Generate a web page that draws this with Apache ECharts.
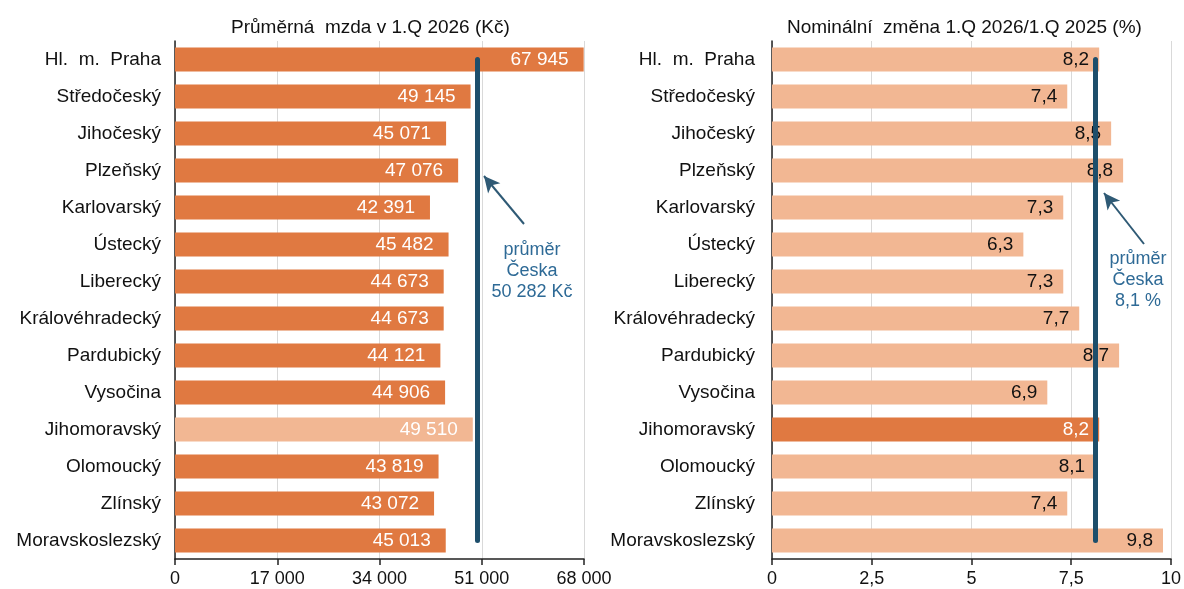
<!DOCTYPE html>
<html>
<head>
<meta charset="utf-8">
<title>Průměrná mzda 1.Q 2026</title>
<script src="https://cdn.jsdelivr.net/npm/echarts@6/dist/echarts.min.js"></script>
<style>
    html, body { margin: 0; padding: 0; background: #fff; }
    #container { width: 1184px; height: 589px; }
</style>
</head>
<body>
<div id="container"></div>
<script>
// kraje
var kraje = ['Hl.  m.  Praha', 'Středočeský', 'Jihočeský', 'Plzeňský', 'Karlovarský', 'Ústecký', 'Liberecký',
    'Královéhradecký', 'Pardubický', 'Vysočina', 'Jihomoravský', 'Olomoucký', 'Zlínský', 'Moravskoslezský'];
// průměrná mzda v Kč
var mzda = [67945, 49145, 45071, 47076, 42391, 45482, 44673, 44673, 44121, 44906, 49510, 43819, 43072, 45013];
// nominální změna v %
var zmena = [8.2, 7.4, 8.5, 8.8, 7.3, 6.3, 7.3, 7.7, 8.7, 6.9, 8.2, 8.1, 7.4, 9.8];
var prumerMzda = 50282;
var prumerZmena = 8.1;
var zvyraznit = 'Jihomoravský';
// osy
var mzdaTicks = [0, 17000, 34000, 51000, 68000];
var zmenaTicks = [0, 2.5, 5, 7.5, 10];

var tmava = '#e07941';
var svetla = '#f2b793';
var modra = '#1d4e6b';
var font = "'Liberation Sans', Arial, sans-serif";

function tisice(v) {
    return String(v).replace(/\B(?=(\d{3})+(?!\d))/g, ' ');
}
function carka(v) {
    return String(v).replace('.', ',');
}

var dom = document.getElementById("container");
var myChart = echarts.init(dom);

function osaX(idx, ticks, fmt) {
    return {
        type: 'value',
        gridIndex: idx,
        min: ticks[0],
        max: ticks[ticks.length - 1],
        interval: ticks[1] - ticks[0],
        axisLine: { show: true, lineStyle: { color: '#222', width: 1.5 } },
        axisTick: { show: true, length: 6, lineStyle: { color: '#222', width: 1.5 } },
        axisLabel: { color: '#111', fontSize: 18, fontFamily: font, margin: 11, formatter: fmt },
        splitLine: { show: true, lineStyle: { color: '#d9d9d9', width: 1 } }
    };
}
function osaY(idx, margin) {
    return {
        type: 'category',
        gridIndex: idx,
        inverse: true,
        data: kraje,
        axisLine: { show: true, lineStyle: { color: '#222', width: 1.5 } },
        axisTick: { show: false },
        axisLabel: { color: '#111', fontSize: 19, fontFamily: font, margin: margin }
    };
}

var option = {
    animation: false,
    textStyle: { fontFamily: font },
    title: [
        { text: 'Průměrná  mzda v 1.Q 2026 (Kč)', left: 226, top: 13,
            textStyle: { fontSize: 19, fontWeight: 'normal', color: '#111', fontFamily: font } },
        { text: 'Nominální  změna 1.Q 2026/1.Q 2025 (%)', left: 782, top: 13,
            textStyle: { fontSize: 19, fontWeight: 'normal', color: '#111', fontFamily: font } }
    ],
    grid: [
        { left: 175, width: 409, top: 41, height: 518 },
        { left: 772, width: 402, top: 41, height: 518 }
    ],
    xAxis: [
        osaX(0, mzdaTicks, function (v) { return tisice(v); }),
        osaX(1, zmenaTicks, function (v) { return carka(v); })
    ],
    yAxis: [osaY(0, 14), osaY(1, 17)],
    series: [
        {
            type: 'bar',
            xAxisIndex: 0,
            yAxisIndex: 0,
            barCategoryGap: '35%',
            data: mzda.map(function (v, i) {
                return { value: v, itemStyle: { color: kraje[i] === zvyraznit ? svetla : tmava } };
            }),
            label: {
                show: true,
                position: 'insideRight',
                distance: 15,
                color: '#fff',
                fontSize: 19,
                fontFamily: font,
                formatter: function (p) { return tisice(p.value); }
            },
            markLine: {
                silent: true,
                symbol: 'none',
                label: { show: false },
                data: [
                    [
                        { coord: [prumerMzda, 0], lineStyle: { color: modra, width: 5, cap: 'round', type: 'solid' } },
                        { coord: [prumerMzda, kraje.length - 1] }
                    ],
                    [
                        { x: 524, y: 224, symbol: 'none', lineStyle: { color: '#2f5a75', width: 2, type: 'solid' } },
                        { x: 484, y: 176, symbol: 'arrow', symbolSize: [12, 16] }
                    ]
                ]
            }
        },
        {
            type: 'bar',
            xAxisIndex: 1,
            yAxisIndex: 1,
            barCategoryGap: '35%',
            data: zmena.map(function (v, i) {
                var hl = kraje[i] === zvyraznit;
                return {
                    value: v,
                    itemStyle: { color: hl ? tmava : svetla },
                    label: { color: hl ? '#fff' : '#111' }
                };
            }),
            label: {
                show: true,
                position: 'insideRight',
                distance: 10,
                fontSize: 19,
                fontFamily: font,
                formatter: function (p) { return carka(p.value); }
            },
            markLine: {
                silent: true,
                symbol: 'none',
                label: { show: false },
                data: [
                    [
                        { coord: [prumerZmena, 0], lineStyle: { color: modra, width: 5, cap: 'round', type: 'solid' } },
                        { coord: [prumerZmena, kraje.length - 1] }
                    ],
                    [
                        { x: 1144, y: 244, symbol: 'none', lineStyle: { color: '#2f5a75', width: 2, type: 'solid' } },
                        { x: 1104, y: 193, symbol: 'arrow', symbolSize: [12, 16] }
                    ]
                ]
            }
        }
    ],
    graphic: [
        {
            type: 'text', x: 532, y: 240, style: {
                text: 'průměr\nČeska\n' + tisice(prumerMzda) + ' Kč',
                align: 'center', fill: '#2e6a96', fontSize: 18, lineHeight: 21, fontFamily: font
            }
        },
        {
            type: 'text', x: 1138, y: 249, style: {
                text: 'průměr\nČeska\n' + carka(prumerZmena) + ' %',
                align: 'center', fill: '#2e6a96', fontSize: 18, lineHeight: 21, fontFamily: font
            }
        }
    ]
};

if (option && typeof option === "object") {
    myChart.setOption(option, true);
}
</script>
</body>
</html>
